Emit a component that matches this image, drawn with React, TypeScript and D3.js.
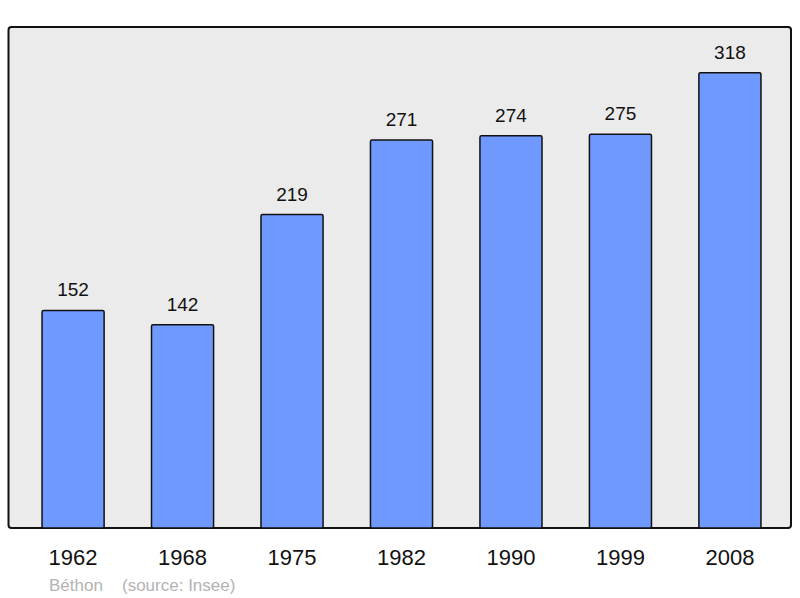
import * as d3 from 'd3'

const years = ['1962', '1968', '1975', '1982', '1990', '1999', '2008']
const population = [152, 142, 219, 271, 274, 275, 318]
const town = 'Béthon'
const source = '(source: Insee)'

const W = 800
const H = 598

export default function App() {
  const x = d3.scaleBand().domain(years).range([9.2, 793.8]).paddingInner(0.433).paddingOuter(0.3)
  const y = d3.scaleLinear().domain([0, 350]).range([528, 27])
  const font = '"Liberation Sans", Arial, sans-serif'

  return (
    <svg
      width={W}
      height={H}
      style={{ position: 'absolute', left: 0, top: 0 }}
      fontFamily={font}
    >
      <rect x={8.5} y={27} width={782.5} height={501} rx={3} fill="#ebebeb" stroke="#111" strokeWidth={2} />
      {years.map((yr, i) => {
        const v = population[i]
        const bx = x(yr) ?? 0
        return (
          <g key={yr}>
            <rect
              x={bx}
              y={y(v)}
              width={x.bandwidth()}
              height={y(0) - y(v)}
              rx={1.5}
              fill="#7099ff"
              stroke="#111"
              strokeWidth={1.5}
            />
            <text x={bx + x.bandwidth() / 2} y={y(v) - 14} textAnchor="middle" fontSize={19} fill="#111">
              {v}
            </text>
            <text x={bx + x.bandwidth() / 2} y={565} textAnchor="middle" fontSize={22} fill="#111">
              {yr}
            </text>
          </g>
        )
      })}
      <text x={49} y={591} fontSize={17} fill="#b3b3b3">{town}</text>
      <text x={122} y={591} fontSize={17} fill="#b3b3b3">{source}</text>
    </svg>
  )
}
